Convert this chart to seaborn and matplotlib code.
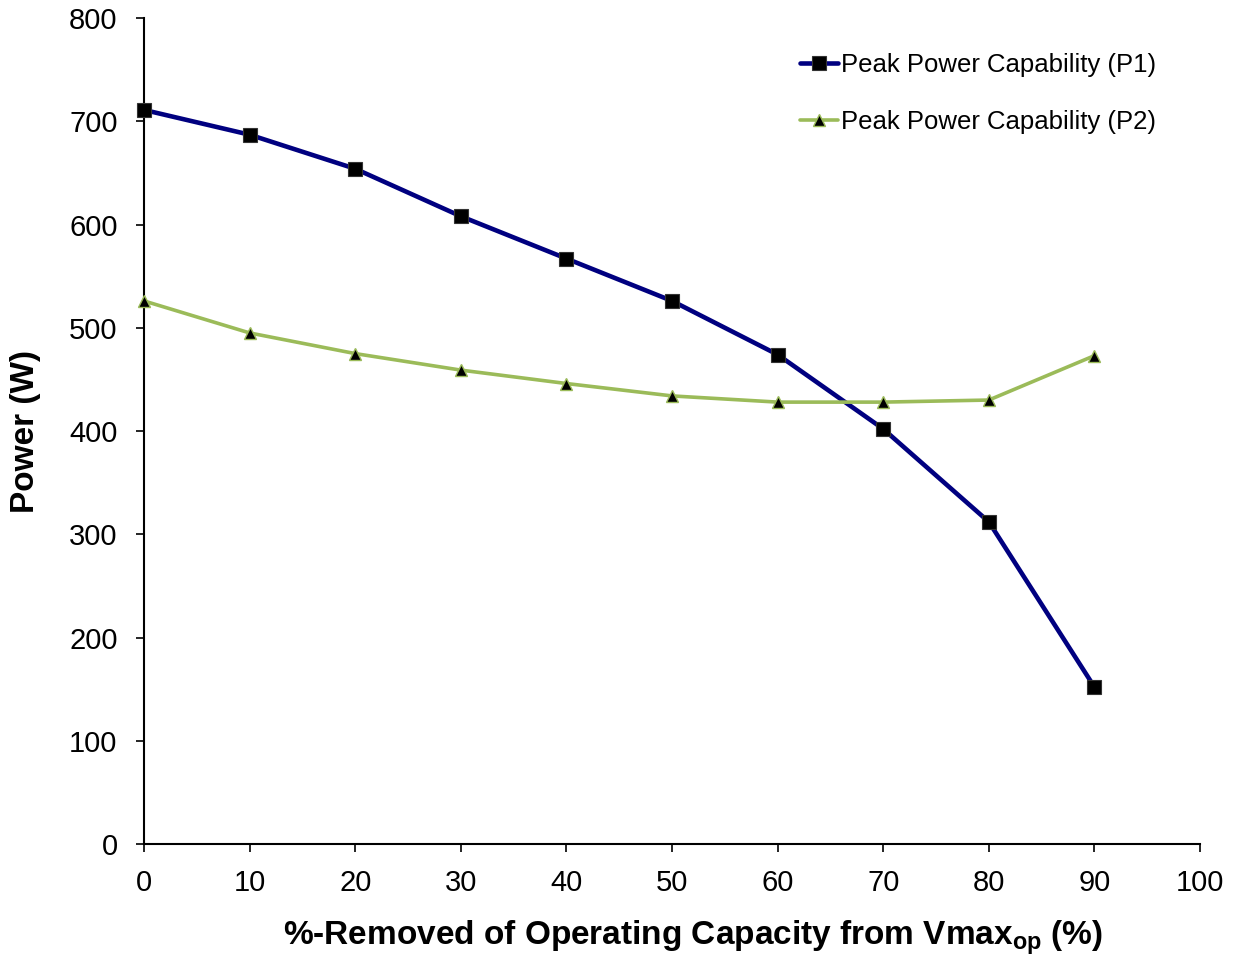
import numpy as np
import pandas as pd
import matplotlib
matplotlib.use("Agg")
import matplotlib.pyplot as plt
import seaborn as sns

# Data
removed = [0, 10, 20, 30, 40, 50, 60, 70, 80, 90]
p1 = [711, 687, 654, 608, 567, 526, 474, 402, 312, 152]
p2 = [526, 495, 475, 459, 446, 434, 428, 428, 430, 473]
labels = ["Peak Power Capability (P1)", "Peak Power Capability (P2)"]

sns.set_style("white")
plt.rcParams['font.family'] = ['Liberation Sans', 'DejaVu Sans']
plt.rcParams['mathtext.fontset'] = 'custom'
plt.rcParams['mathtext.rm'] = 'Liberation Sans'
plt.rcParams['mathtext.bf'] = 'Liberation Sans:bold'
plt.rcParams['text.color'] = 'black'
plt.rcParams['axes.labelcolor'] = 'black'

df = pd.DataFrame({"x": removed, "P1": p1, "P2": p2})

fig = plt.figure(figsize=(12.35, 9.59), dpi=100)
ax = fig.add_axes([0.1166, 0.1199, 0.8551, 0.8613])

sns.lineplot(data=df, x="x", y="P1", ax=ax, color="#000080", linewidth=3.3,
             marker="s", markersize=10.5, markerfacecolor="black",
             markeredgecolor="#333333", markeredgewidth=0.8, label=labels[0],
             clip_on=False, zorder=3)
sns.lineplot(data=df, x="x", y="P2", ax=ax, color="#9BBB59", linewidth=2.6,
             marker="^", markersize=8.5, markerfacecolor="black",
             markeredgecolor="#9BBB59", markeredgewidth=1.0, label=labels[1],
             clip_on=False, zorder=3)

ax.set_xlim(0, 100)
ax.set_ylim(0, 800)
ax.set_xticks(np.arange(0, 101, 10))
ax.set_yticks(np.arange(0, 801, 100))
ax.tick_params(axis='both', direction='out', length=6, width=1.2,
               labelsize=21, colors='black', bottom=True, left=True)
ax.tick_params(axis='x', pad=12)
ax.tick_params(axis='y', pad=13)

for s in ["top", "right"]:
    ax.spines[s].set_visible(False)
for s in ["left", "bottom"]:
    ax.spines[s].set_color("black")
    ax.spines[s].set_linewidth(1.5)

ax.set_xlabel(r"%-Removed of Operating Capacity from Vmax$\mathbf{_{op}}$ (%)",
              fontsize=24, fontweight="bold")
ax.set_ylabel("Power (W)", fontsize=24, fontweight="bold", labelpad=20)
ax.xaxis.set_label_coords(0.52, -0.114, transform=ax.transAxes)
ax.xaxis.label.set_va("center")

leg = ax.legend(loc="upper right", bbox_to_anchor=(0.98, 0.986), frameon=False,
                fontsize=18.5, handlelength=1.5, handletextpad=0.1,
                labelspacing=1.3)

fig.savefig("out.png", dpi=100)
